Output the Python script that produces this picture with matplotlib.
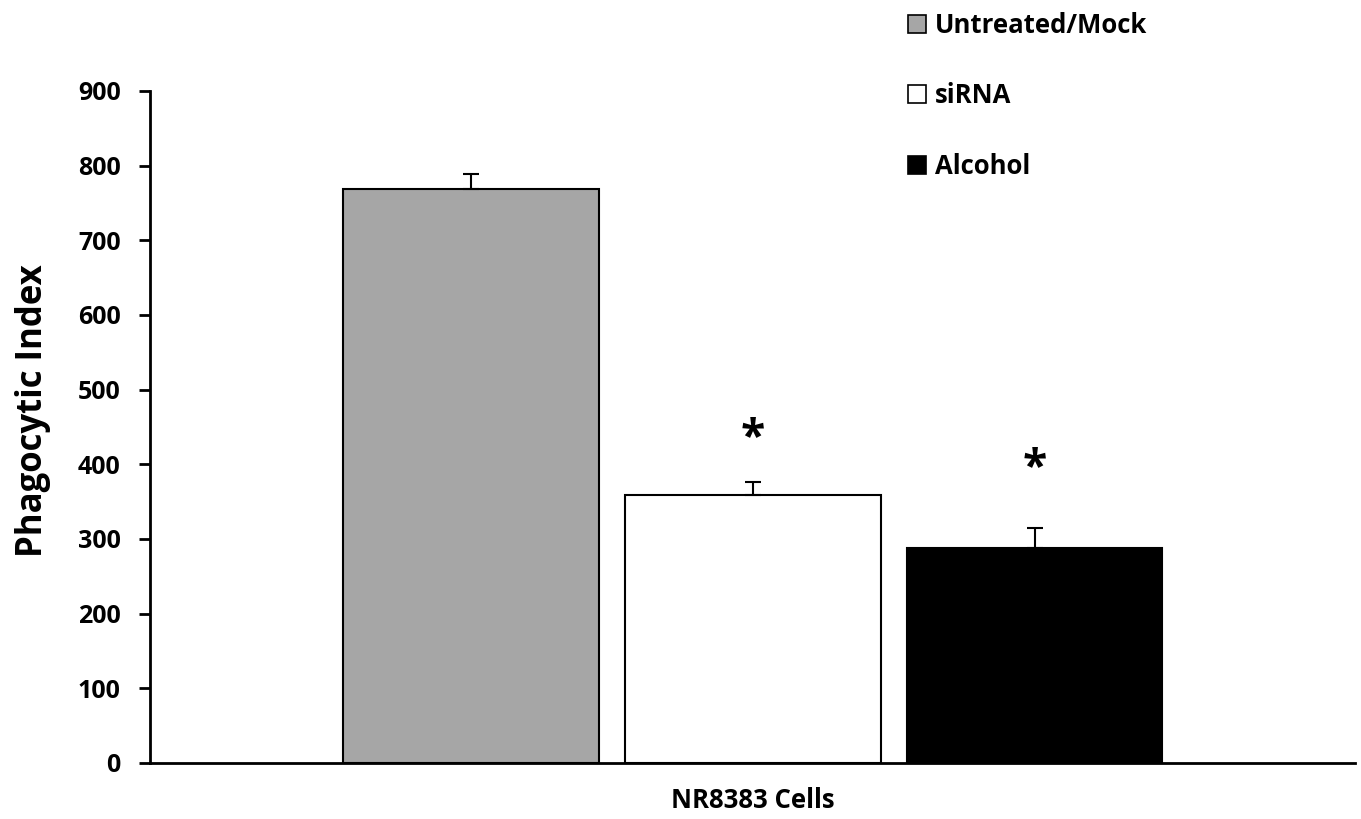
import matplotlib
matplotlib.use("Agg")
import matplotlib.pyplot as plt
from matplotlib.patches import Patch

plt.rcParams['font.family'] = ['Open Sans', 'DejaVu Sans']
plt.rcParams['font.weight'] = 'bold'

# Data
groups = ["Untreated/Mock", "siRNA", "Alcohol"]
values = [769, 359, 288]
errors = [20, 17, 27]
colors = ["#a6a6a6", "#ffffff", "#000000"]
yticks = [0, 100, 200, 300, 400, 500, 600, 700, 800, 900]
xlabel = "NR8383 Cells"
ylabel = "Phagocytic Index"
significant = [False, True, True]
star_y = [None, 435, 394]

fig = plt.figure(figsize=(13.61, 8.19), dpi=100)
ax = fig.add_axes([150/1361, 56/819, 1205/1361, 672/819])

pos = [0, 1, 2]
width = 0.908
ax.bar(pos, values, width=width, color=colors, edgecolor="black", linewidth=1.5, zorder=2)
ax.errorbar(pos, values, yerr=[[0]*3, errors], fmt="none", ecolor="black",
            elinewidth=1.5, capsize=6, capthick=1.5, zorder=3)

for p, sig, sy in zip(pos, significant, star_y):
    if sig:
        ax.text(p, sy, "*", ha="center", va="center", fontsize=32, fontweight="bold")

ax.set_xlim(-1.138, 3.137)
ax.set_ylim(0, 900)
ax.set_yticks(yticks)
ax.set_yticklabels([str(t) for t in yticks], fontsize=18, fontweight="bold")
ax.set_xticks([])
ax.tick_params(axis="y", direction="out", length=8, width=2, pad=13)
for s in ["top", "right"]:
    ax.spines[s].set_visible(False)
for s in ["left", "bottom"]:
    ax.spines[s].set_linewidth(2)

ax.set_ylabel(ylabel, fontsize=25, fontweight="bold")
ax.yaxis.set_label_coords(-0.082, 0.525)
ax.set_xlabel(xlabel, fontsize=18.5, fontweight="bold", labelpad=17)

handles = [Patch(facecolor=c, edgecolor="black", linewidth=1.2) for c in colors]
ax.legend(handles, groups, loc="upper left", bbox_to_anchor=(900/1361, 1.0 - 4/819),
          bbox_transform=fig.transFigure,
          frameon=False, handlelength=0.7, handleheight=0.7, handletextpad=0.35,
          labelspacing=1.70, borderaxespad=0, borderpad=0.3,
          prop={"size": 18.5, "weight": "bold"})

fig.savefig("out.png", dpi=100)
